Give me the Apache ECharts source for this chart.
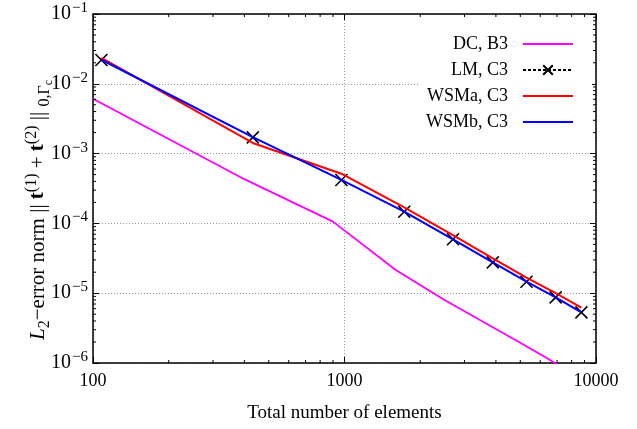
<!DOCTYPE html>
<html>
<head>
<meta charset="utf-8">
<script src="https://cdn.jsdelivr.net/npm/echarts@6/dist/echarts.min.js"></script>
<style>
  html, body { margin: 0; padding: 0; background: #fff; }
  #chart { width: 637px; height: 429px; }
</style>
</head>
<body>
<div id="chart"></div>
<script>
// Mesh sizes (total number of elements)
const elementsB3 = [100, 400, 900, 1600, 2500, 3600, 4900, 6400, 8100];
const elementsC3 = [108, 432, 972, 1728, 2700, 3888, 5292, 6912, 8748];

// L2 error norms of the traction jump on the contact interface
const errDC_B3   = [6.1e-3, 4.3e-4, 1.06e-4, 2.15e-5, 8.0e-6, 3.8e-6, 2.03e-6, 1.17e-6, 6.9e-7];
const errLM_C3   = [2.19e-2, 1.71e-3, 4.19e-4, 1.47e-4, 5.92e-5, 2.77e-5, 1.46e-5, 8.73e-6, 5.32e-6];
const errWSMa_C3 = [2.35e-2, 1.42e-3, 5.15e-4, 1.70e-4, 6.8e-5, 3.16e-5, 1.67e-5, 1.0e-5, 6.2e-6];
const errWSMb_C3 = [2.21e-2, 1.72e-3, 4.2e-4, 1.47e-4, 5.9e-5, 2.77e-5, 1.46e-5, 8.7e-6, 5.3e-6];

const seriesNames = ['DC, B3', 'LM, C3', 'WSMa, C3', 'WSMb, C3'];

// Axis ranges and labelled ticks
const xTicks = [100, 1000, 10000];
const yTickExponents = [-6, -5, -4, -3, -2, -1];
const xMin = 100, xMax = 10000;
const yMin = 1e-6, yMax = 1e-1;

const FONT = '"Liberation Serif", "DejaVu Serif", serif';

function pairs(xs, ys) { return xs.map((x, i) => [x, ys[i]]); }

// minor tick positions 2..9 inside each decade
function minorTicks(lo, hi) {
  const out = [];
  for (let d = lo; d < hi; d *= 10) {
    for (let k = 2; k <= 9; k++) out.push(d * k);
  }
  return out;
}
const xMinor = minorTicks(xMin, xMax);
const yMinor = minorTicks(yMin, yMax);

const chart = echarts.init(document.getElementById('chart'), null, { renderer: 'canvas' });

const axisLineStyle = { color: '#000', width: 1.5 };

function minorTickRenderer(isX) {
  return function (params, api) {
    const v = api.value(isX ? 0 : 1);
    const shapes = [];
    const len = 3;
    if (isX) {
      const b = api.coord([v, yMin]);
      const t = api.coord([v, yMax]);
      shapes.push({ type: 'line', shape: { x1: b[0], y1: b[1], x2: b[0], y2: b[1] - len } });
      shapes.push({ type: 'line', shape: { x1: t[0], y1: t[1], x2: t[0], y2: t[1] + len } });
    } else {
      const l = api.coord([xMin, v]);
      const r = api.coord([xMax, v]);
      shapes.push({ type: 'line', shape: { x1: l[0], y1: l[1], x2: l[0] + len, y2: l[1] } });
      shapes.push({ type: 'line', shape: { x1: r[0], y1: r[1], x2: r[0] - len, y2: r[1] } });
    }
    return {
      type: 'group',
      children: shapes.map(s => Object.assign(s, { style: { stroke: '#000', lineWidth: 1 } }))
    };
  };
}

// legend entries: plain lines hide the marker, LM keeps its cross
const hiddenMarker = { opacity: 0 };
const legendData = seriesNames.map((n, i) => i === 1 ? { name: n } : { name: n, itemStyle: hiddenMarker });

const option = {
  backgroundColor: '#fff',
  animation: false,
  grid: { left: 93, top: 14, width: 503, height: 349, containLabel: false },
  xAxis: [
    {
      type: 'log', logBase: 10, min: xMin, max: xMax, position: 'bottom',
      name: 'Total number of elements', nameLocation: 'middle', nameGap: 41,
      nameTextStyle: { fontFamily: FONT, fontSize: 19, color: '#000' },
      axisLine: { show: true, lineStyle: axisLineStyle },
      axisTick: { show: true, inside: true, length: 6, lineStyle: { color: '#000', width: 1 } },
      axisLabel: {
        fontFamily: FONT, fontSize: 18, color: '#000', margin: 9,
        formatter: v => {
          const t = xTicks.find(x => Math.abs(Math.log10(x) - Math.log10(v)) < 1e-6);
          return t !== undefined ? String(t) : '';
        }
      },
      splitLine: { show: true, lineStyle: { color: '#999', type: [1, 2], width: 1 } }
    },
    {
      type: 'log', logBase: 10, min: xMin, max: xMax, position: 'top',
      axisLine: { show: true, lineStyle: axisLineStyle },
      axisTick: { show: true, inside: true, length: 6, lineStyle: { color: '#000', width: 1 } },
      axisLabel: { show: false },
      splitLine: { show: false }
    }
  ],
  yAxis: [
    {
      type: 'log', logBase: 10, min: yMin, max: yMax, position: 'left',
      axisLine: { show: true, lineStyle: axisLineStyle },
      axisTick: { show: true, inside: true, length: 6, lineStyle: { color: '#000', width: 1 } },
      axisLabel: {
        fontFamily: FONT, fontSize: 20, color: '#000', margin: 5,
        formatter: v => {
          const e = Math.round(Math.log10(v));
          if (!yTickExponents.includes(e)) return '';
          return '10{sup|' + (e < 0 ? '\u2212' + (-e) : e) + '}';
        },
        rich: {
          sup: { fontFamily: FONT, fontSize: 15, color: '#000', padding: [0, 0, 12, 1] }
        }
      },
      splitLine: { show: true, lineStyle: { color: '#999', type: [1, 2], width: 1 } }
    },
    {
      type: 'log', logBase: 10, min: yMin, max: yMax, position: 'right',
      axisLine: { show: true, lineStyle: axisLineStyle },
      axisTick: { show: true, inside: true, length: 6, lineStyle: { color: '#000', width: 1 } },
      axisLabel: { show: false },
      splitLine: { show: false }
    }
  ],
  legend: {
    data: legendData,
    orient: 'vertical',
    left: 420, top: 31,
    align: 'right',
    itemWidth: 50, itemHeight: 12, itemGap: 8,
    backgroundColor: '#fff',
    padding: [4, 18, 4, 6],
    textStyle: { fontFamily: FONT, fontSize: 18, color: '#000', width: 88, align: 'right', padding: [0, 10, 0, 0] },
    selectedMode: false
  },
  graphic: [
    {
      type: 'text',
      x: 38, y: 210,
      rotation: Math.PI / 2,
      style: {
        text: '{it|L}{sub|2}\u2212error norm || {b|t}{sup|(1)} + {b|t}{sup|(2)} || {sub|0,\u0393}{subsub|c}',
        align: 'center', verticalAlign: 'middle',
        fontFamily: FONT, fontSize: 21, fill: '#000',
        rich: {
          it: { fontFamily: FONT, fontSize: 21, fontStyle: 'italic', fill: '#000' },
          b: { fontFamily: FONT, fontSize: 21, fontWeight: 'bold', fill: '#000' },
          sup: { fontFamily: FONT, fontSize: 16, fill: '#000', padding: [0, 0, 12, 0] },
          sub: { fontFamily: FONT, fontSize: 16, fill: '#000', padding: [14, 0, 0, 0] },
          subsub: { fontFamily: FONT, fontSize: 12, fill: '#000', padding: [22, 0, 0, 0] }
        }
      }
    }
  ],
  series: [
    {
      name: seriesNames[0], type: 'line', data: pairs(elementsB3, errDC_B3),
      showSymbol: false, symbol: 'none', clip: true,
      lineStyle: { color: '#ff00ff', width: 1.8 }, itemStyle: { color: '#ff00ff' }, z: 3
    },
    {
      name: seriesNames[1], type: 'line', data: pairs(elementsC3, errLM_C3),
      symbol: 'path://M0,0L10,10M10,0L0,10', symbolSize: 12, showSymbol: true, clip: true,
      lineStyle: { color: '#000', width: 1, type: [3, 2] },
      itemStyle: { color: 'rgba(0,0,0,0)', borderColor: '#000', borderWidth: 1.6 }, z: 4
    },
    {
      name: seriesNames[2], type: 'line', data: pairs(elementsC3, errWSMa_C3),
      showSymbol: false, symbol: 'none', clip: true,
      lineStyle: { color: '#ff0000', width: 2 }, itemStyle: { color: '#ff0000' }, z: 5
    },
    {
      name: seriesNames[3], type: 'line', data: pairs(elementsC3, errWSMb_C3),
      showSymbol: false, symbol: 'none', clip: true,
      lineStyle: { color: '#0000ff', width: 2 }, itemStyle: { color: '#0000ff' }, z: 6
    },
    {
      type: 'custom', silent: true, clip: false, z: 10,
      data: xMinor.map(v => [v, yMin]),
      renderItem: minorTickRenderer(true)
    },
    {
      type: 'custom', silent: true, clip: false, z: 10,
      data: yMinor.map(v => [xMin, v]),
      renderItem: minorTickRenderer(false)
    }
  ]
};

chart.setOption(option);
</script>
</body>
</html>
